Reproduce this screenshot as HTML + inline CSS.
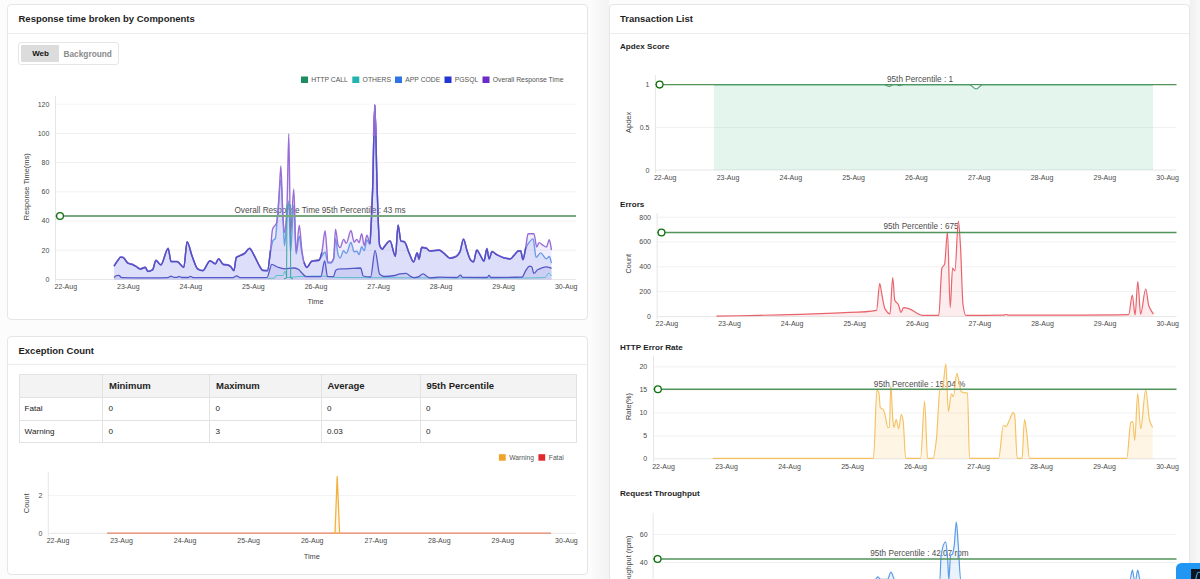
<!DOCTYPE html>
<html><head><meta charset="utf-8"><title>Dashboard</title>
<style>
*{box-sizing:border-box;margin:0;padding:0}
html,body{width:1200px;height:579px;overflow:hidden;background:#fcfcfc;font-family:"Liberation Sans", sans-serif;}
.panel{position:absolute;background:#fff;border:1px solid #e6e6e6;border-radius:4px;}
.ptitle{position:absolute;font-weight:bold;font-size:9.5px;color:#1e1e1e;white-space:nowrap;}
.hdiv{position:absolute;left:0;right:0;height:1px;background:#ececec;}
.sub{position:absolute;font-weight:bold;font-size:8.1px;color:#1e1e1e;white-space:nowrap;}
table{position:absolute;border-collapse:collapse;font-size:8.1px;color:#222;}
td,th{border:1px solid #e2e2e2;text-align:left;padding:0 0 0 5.6px;white-space:nowrap;}
td:first-child{padding-left:4.6px;}
th{padding-left:6px;}
th{background:#f3f3f3;font-weight:bold;font-size:9.5px;color:#1e1e1e;height:23.5px;}
td{height:22.5px;}
svg{position:absolute;left:0;top:0;}
</style></head><body>
<div class="panel" style="left:7px;top:4px;width:581px;height:316px;">
  <div class="ptitle" style="left:10.5px;top:8px;">Response time broken by Components</div>
  <div class="hdiv" style="top:27.5px;"></div>
  <div style="position:absolute;left:9.8px;top:36.5px;width:101px;height:23.5px;border:1px solid #e6e6e6;border-radius:3px;background:#fff;"></div>
  <div style="position:absolute;left:12.8px;top:39.5px;width:38.7px;height:17.3px;background:#dcdcdc;border-radius:1px;"></div>
  <div style="position:absolute;left:24.2px;top:43.6px;font-weight:bold;font-size:8px;color:#111;">Web</div>
  <div style="position:absolute;left:55.5px;top:43.8px;font-weight:bold;font-size:8.3px;color:#8a8a8a;">Background</div>
</div>
<div class="panel" style="left:7px;top:336px;width:581px;height:238.5px;">
  <div class="ptitle" style="left:10.5px;top:8px;">Exception Count</div>
  <div class="hdiv" style="top:27px;"></div>
  <table style="left:11px;top:36.7px;width:558px;">
    <tr><th style="width:83px"></th><th style="width:107px">Minimum</th><th style="width:111.5px">Maximum</th><th style="width:99px">Average</th><th>95th Percentile</th></tr>
    <tr><td>Fatal</td><td>0</td><td>0</td><td>0</td><td>0</td></tr>
    <tr><td>Warning</td><td>0</td><td>3</td><td>0.03</td><td>0</td></tr>
  </table>
</div>
<div style="position:absolute;left:592px;top:0;width:17px;height:579px;background:linear-gradient(90deg,#fafafa,#f3f3f3);"></div>
<div style="position:absolute;left:1190px;top:0;width:10px;height:579px;background:linear-gradient(90deg,#f0f0f0,#f8f8f8);"></div>
<div class="panel" style="left:609px;top:4px;width:581px;height:600px;">
  <div class="ptitle" style="left:10px;top:8px;">Transaction List</div>
  <div class="hdiv" style="top:27.5px;"></div>
  <div class="sub" style="left:10px;top:36.5px;">Apdex Score</div>
  <div class="sub" style="left:10px;top:195px;">Errors</div>
  <div class="sub" style="left:10px;top:337.5px;">HTTP Error Rate</div>
  <div class="sub" style="left:10px;top:484px;">Request Throughput</div>
</div>
<svg width="1200" height="579" viewBox="0 0 1200 579" font-family='"Liberation Sans", sans-serif'>
<line x1="55.5" x2="576" y1="250.2" y2="250.2" stroke="#f1f1f1" stroke-width="1"/>
<line x1="55.5" x2="576" y1="221" y2="221" stroke="#f1f1f1" stroke-width="1"/>
<line x1="55.5" x2="576" y1="191.8" y2="191.8" stroke="#f1f1f1" stroke-width="1"/>
<line x1="55.5" x2="576" y1="162.6" y2="162.6" stroke="#f1f1f1" stroke-width="1"/>
<line x1="55.5" x2="576" y1="133.4" y2="133.4" stroke="#f1f1f1" stroke-width="1"/>
<line x1="55.5" x2="576" y1="104.2" y2="104.2" stroke="#f7f7f7" stroke-width="1"/>
<line x1="55.5" x2="576" y1="279.4" y2="279.4" stroke="#e6e6e6" stroke-width="1"/>
<line x1="55.5" x2="55.5" y1="96" y2="282.4" stroke="#e6e6e6" stroke-width="1"/>
<text x="49.4" y="106.6" font-size="7" fill="#4a4a4a" text-anchor="end" font-weight="normal" >120</text>
<text x="49.4" y="135.8" font-size="7" fill="#4a4a4a" text-anchor="end" font-weight="normal" >100</text>
<text x="49.4" y="165.0" font-size="7" fill="#4a4a4a" text-anchor="end" font-weight="normal" >80</text>
<text x="49.4" y="194.2" font-size="7" fill="#4a4a4a" text-anchor="end" font-weight="normal" >60</text>
<text x="49.4" y="223.4" font-size="7" fill="#4a4a4a" text-anchor="end" font-weight="normal" >40</text>
<text x="49.4" y="252.6" font-size="7" fill="#4a4a4a" text-anchor="end" font-weight="normal" >20</text>
<text x="49.4" y="281.8" font-size="7" fill="#4a4a4a" text-anchor="end" font-weight="normal" >0</text>
<text x="65.8" y="288.7" font-size="7" fill="#4a4a4a" text-anchor="middle" font-weight="normal" >22-Aug</text>
<text x="128.3" y="288.7" font-size="7" fill="#4a4a4a" text-anchor="middle" font-weight="normal" >23-Aug</text>
<text x="190.9" y="288.7" font-size="7" fill="#4a4a4a" text-anchor="middle" font-weight="normal" >24-Aug</text>
<text x="253.4" y="288.7" font-size="7" fill="#4a4a4a" text-anchor="middle" font-weight="normal" >25-Aug</text>
<text x="316.0" y="288.7" font-size="7" fill="#4a4a4a" text-anchor="middle" font-weight="normal" >26-Aug</text>
<text x="378.6" y="288.7" font-size="7" fill="#4a4a4a" text-anchor="middle" font-weight="normal" >27-Aug</text>
<text x="441.1" y="288.7" font-size="7" fill="#4a4a4a" text-anchor="middle" font-weight="normal" >28-Aug</text>
<text x="503.6" y="288.7" font-size="7" fill="#4a4a4a" text-anchor="middle" font-weight="normal" >29-Aug</text>
<text x="566.2" y="288.7" font-size="7" fill="#4a4a4a" text-anchor="middle" font-weight="normal" >30-Aug</text>
<text x="315.5" y="304" font-size="7.4" fill="#444" text-anchor="middle" font-weight="normal" >Time</text>
<text transform="translate(29,186.7) rotate(-90)" font-size="7.5" fill="#444" text-anchor="middle">Response Time(ms)</text>
<text x="320" y="212.8" font-size="8.2" fill="#4d4d4d" text-anchor="middle" font-weight="normal" >Overall Response Time 95th Percentile : 43 ms</text>
<path d="M114.0,265.9 C115.3,263.9 116.7,261.7 118.0,260.0 C118.9,258.9 119.7,257.0 120.6,257.0 C121.4,257.0 122.3,257.1 123.1,257.3 C124.7,257.6 126.4,262.4 128.0,263.1 C129.4,263.7 130.7,263.7 132.1,264.2 C133.5,264.7 134.8,265.6 136.2,266.4 C137.6,267.2 138.9,268.8 140.3,268.8 C141.9,268.8 143.6,267.2 145.2,267.2 C146.1,267.2 147.1,271.3 148.0,271.3 C149.5,271.3 151.1,270.6 152.6,269.6 C153.7,268.8 154.8,260.3 155.9,260.3 C157.5,260.3 159.2,264.7 160.8,264.7 C163.3,264.7 165.7,248.3 168.2,248.3 C169.1,248.3 170.1,261.4 171.0,261.4 C173.1,261.4 175.1,261.4 177.2,261.4 C179.4,261.4 181.6,267.2 183.8,267.2 C184.9,267.2 186.0,241.7 187.1,241.7 C188.7,241.7 190.4,251.6 192.0,255.7 C193.9,260.6 195.9,267.7 197.8,268.8 C199.4,269.8 201.1,270.5 202.7,270.5 C205.2,270.5 207.6,260.6 210.1,260.6 C211.8,260.6 213.6,263.6 215.3,263.6 C216.4,263.6 217.5,258.6 218.6,258.6 C220.1,258.6 221.7,263.9 223.2,264.2 C224.6,264.5 225.9,264.4 227.3,264.7 C228.4,264.9 229.5,265.6 230.6,266.4 C231.7,267.2 232.8,270.5 233.9,270.5 C234.7,270.5 235.5,258.0 236.3,257.3 C237.4,256.3 238.5,256.2 239.6,255.7 C241.3,254.9 242.9,254.3 244.6,253.2 C246.2,252.1 247.9,248.3 249.5,248.3 C251.1,248.3 252.8,252.9 254.4,255.7 C256.0,258.5 257.7,262.8 259.3,265.5 C260.4,267.3 261.5,269.9 262.6,270.1 C264.2,270.4 265.9,270.5 267.5,270.5 C268.5,270.5 269.5,258.3 270.5,250.0 C271.2,244.4 271.8,231.4 272.5,229.4 C273.9,225.2 275.2,226.8 276.6,222.8 C277.3,220.8 277.9,212.7 278.6,205.0 C279.4,196.1 280.1,166.0 280.9,166.0 C281.5,166.0 282.2,205.7 282.8,215.0 C283.4,223.3 283.9,232.6 284.5,232.6 C285.3,232.6 286.2,219.8 287.0,205.0 C287.6,194.3 288.2,133.7 288.8,133.7 C289.4,133.7 289.9,234.4 290.5,234.4 C291.6,234.4 292.7,189.3 293.8,189.3 C294.6,189.3 295.3,252.0 296.1,252.0 C297.2,252.0 298.2,225.1 299.3,225.1 C300.1,225.1 300.9,242.9 301.7,248.7 C302.5,254.3 303.2,259.9 304.0,262.1 C304.9,264.7 305.9,267.2 306.8,267.2 C308.5,267.2 310.1,261.5 311.8,261.0 C314.2,260.3 316.7,260.7 319.1,259.9 C320.0,259.6 321.0,255.7 321.9,252.0 C323.0,247.8 324.0,230.7 325.1,230.7 C325.7,230.7 326.4,244.4 327.0,252.0 C327.3,255.2 327.5,262.1 327.8,262.1 C328.8,262.1 329.9,262.1 330.9,262.1 C331.8,262.1 332.8,260.5 333.7,257.6 C334.3,255.7 334.9,229.2 335.5,229.2 C336.4,229.2 337.3,243.6 338.2,245.3 C338.8,246.5 339.5,247.6 340.1,247.6 C341.3,247.6 342.4,239.4 343.6,239.4 C344.5,239.4 345.4,243.3 346.3,243.3 C347.9,243.3 349.4,230.5 351.0,230.5 C352.0,230.5 353.1,242.1 354.1,242.1 C355.0,242.1 355.9,239.4 356.8,239.4 C357.6,239.4 358.3,242.5 359.1,242.5 C360.0,242.5 360.8,233.6 361.7,233.6 C362.5,233.6 363.4,245.6 364.2,245.6 C365.1,245.6 366.0,235.2 366.9,235.2 C367.9,235.2 369.0,243.3 370.0,243.3 C370.9,243.3 371.7,213.4 372.6,190.0 C373.3,170.2 374.1,104.7 374.8,104.7 C375.6,104.7 376.4,167.7 377.2,190.0 C378.0,212.3 378.8,242.9 379.6,245.0 C380.5,247.5 381.5,248.9 382.4,248.9 C383.1,248.9 383.8,247.0 384.5,246.2 C386.3,244.1 388.2,240.8 390.0,240.8 C391.8,240.8 393.6,256.2 395.4,256.2 C396.3,256.2 397.2,225.0 398.1,225.0 C399.0,225.0 400.0,240.3 400.9,240.8 C402.1,241.4 403.3,241.2 404.5,241.7 C406.0,242.4 407.5,249.3 409.0,252.6 C410.5,255.9 412.1,261.7 413.6,261.7 C414.8,261.7 416.0,252.6 417.2,252.6 C417.8,252.6 418.4,259.0 419.0,259.0 C419.9,259.0 420.8,247.2 421.7,247.2 C423.2,247.2 424.8,247.6 426.3,248.0 C427.5,248.4 428.7,250.8 429.9,250.8 C432.9,250.8 436.0,249.9 439.0,249.9 C440.8,249.9 442.6,252.2 444.4,253.5 C446.2,254.8 448.1,258.0 449.9,258.0 C452.0,258.0 454.1,257.2 456.2,256.2 C457.4,255.6 458.7,253.9 459.9,251.7 C461.1,249.5 462.3,239.0 463.5,239.0 C464.7,239.0 465.9,247.4 467.1,250.8 C468.3,254.2 469.5,258.7 470.7,259.9 C471.6,260.8 472.6,261.7 473.5,261.7 C474.6,261.7 475.7,249.9 476.8,249.9 C478.0,249.9 479.1,253.3 480.3,255.1 C481.5,257.0 482.8,260.9 484.0,260.9 C485.0,260.9 485.9,248.5 486.9,248.5 C487.6,248.5 488.4,258.7 489.1,258.7 C490.1,258.7 491.0,251.4 492.0,251.4 C493.5,251.4 494.9,253.5 496.4,254.3 C498.9,255.6 501.3,257.0 503.8,257.6 C506.0,258.1 508.2,258.7 510.4,258.7 C511.6,258.7 512.9,256.3 514.1,255.1 C515.6,253.7 517.0,250.7 518.5,250.7 C519.2,250.7 520.0,250.7 520.7,250.7 C521.4,250.7 522.2,259.5 522.9,259.5 C523.9,259.5 524.8,251.9 525.8,247.0 C526.5,243.3 527.3,233.8 528.0,233.8 C530.0,233.8 531.9,233.8 533.9,233.8 C534.9,233.8 535.8,247.0 536.8,247.0 C537.5,247.0 538.3,242.6 539.0,242.6 C540.5,242.6 541.9,244.7 543.4,245.5 C544.4,246.1 545.4,247.0 546.4,247.0 C547.4,247.0 548.3,239.6 549.3,239.6 C550.0,239.6 550.8,246.5 551.5,250.0 L551.5,279.4 L114.0,279.4 Z" fill="rgba(120,100,225,0.115)"/>
<path d="M114.0,265.9 C115.3,263.9 116.7,261.7 118.0,260.0 C118.9,258.9 119.7,257.0 120.6,257.0 C121.4,257.0 122.3,257.1 123.1,257.3 C124.7,257.6 126.4,262.4 128.0,263.1 C129.4,263.7 130.7,263.7 132.1,264.2 C133.5,264.7 134.8,265.6 136.2,266.4 C137.6,267.2 138.9,268.8 140.3,268.8 C141.9,268.8 143.6,267.2 145.2,267.2 C146.1,267.2 147.1,271.3 148.0,271.3 C149.5,271.3 151.1,270.6 152.6,269.6 C153.7,268.8 154.8,260.3 155.9,260.3 C157.5,260.3 159.2,264.7 160.8,264.7 C163.3,264.7 165.7,248.3 168.2,248.3 C169.1,248.3 170.1,261.4 171.0,261.4 C173.1,261.4 175.1,261.4 177.2,261.4 C179.4,261.4 181.6,267.2 183.8,267.2 C184.9,267.2 186.0,241.7 187.1,241.7 C188.7,241.7 190.4,251.6 192.0,255.7 C193.9,260.6 195.9,267.7 197.8,268.8 C199.4,269.8 201.1,270.5 202.7,270.5 C205.2,270.5 207.6,260.6 210.1,260.6 C211.8,260.6 213.6,263.6 215.3,263.6 C216.4,263.6 217.5,258.6 218.6,258.6 C220.1,258.6 221.7,263.9 223.2,264.2 C224.6,264.5 225.9,264.4 227.3,264.7 C228.4,264.9 229.5,265.6 230.6,266.4 C231.7,267.2 232.8,270.5 233.9,270.5 C234.7,270.5 235.5,258.0 236.3,257.3 C237.4,256.3 238.5,256.2 239.6,255.7 C241.3,254.9 242.9,254.3 244.6,253.2 C246.2,252.1 247.9,248.3 249.5,248.3 C251.1,248.3 252.8,252.9 254.4,255.7 C256.0,258.5 257.7,262.8 259.3,265.5 C260.4,267.3 261.5,269.9 262.6,270.1 C264.2,270.4 265.9,270.5 267.5,270.5 C268.5,270.5 269.5,257.2 270.5,252.0 C271.3,247.6 272.2,241.7 273.0,240.5 C273.8,239.4 274.5,239.7 275.3,238.5 C276.1,237.3 276.8,222.1 277.6,214.0 C278.7,202.4 279.8,179.5 280.9,179.5 C281.6,179.5 282.3,204.0 283.0,217.0 C283.5,226.3 284.0,246.0 284.5,246.0 C285.3,246.0 286.2,222.9 287.0,215.0 C287.6,209.3 288.2,201.0 288.8,201.0 C289.4,201.0 289.9,252.5 290.5,252.5 C291.6,252.5 292.7,205.0 293.8,205.0 C294.6,205.0 295.3,254.0 296.1,254.0 C297.2,254.0 298.2,236.3 299.3,236.3 C300.1,236.3 300.9,247.7 301.7,252.0 C302.5,256.1 303.2,260.6 304.0,262.5 C304.9,264.8 305.9,267.2 306.8,267.2 C308.5,267.2 310.1,261.5 311.8,261.0 C314.2,260.3 316.7,260.7 319.1,259.9 C320.0,259.6 321.0,257.2 321.9,256.0 C323.0,254.6 324.0,252.0 325.1,252.0 C325.7,252.0 326.4,257.5 327.0,260.0 C327.3,261.0 327.5,263.0 327.8,263.0 C328.8,263.0 329.9,263.0 330.9,263.0 C331.8,263.0 332.8,261.5 333.7,259.0 C334.3,257.4 334.9,238.6 335.5,238.6 C336.4,238.6 337.3,252.8 338.2,255.0 C338.8,256.5 339.5,258.0 340.1,258.0 C341.3,258.0 342.4,250.7 343.6,250.7 C344.5,250.7 345.4,253.4 346.3,253.4 C347.9,253.4 349.4,242.5 351.0,242.5 C352.0,242.5 353.1,251.9 354.1,251.9 C355.0,251.9 355.9,251.1 356.8,251.1 C357.6,251.1 358.3,254.6 359.1,254.6 C360.0,254.6 360.8,246.8 361.7,246.8 C362.5,246.8 363.4,250.7 364.2,250.7 C365.1,250.7 366.0,240.0 366.9,240.0 C367.9,240.0 369.0,244.5 370.0,244.5 C370.9,244.5 371.7,213.8 372.6,190.0 C373.3,169.9 374.1,104.7 374.8,104.7 C375.6,104.7 376.4,167.7 377.2,190.0 C378.0,212.3 378.8,242.9 379.6,245.0 C380.5,247.5 381.5,248.9 382.4,248.9 C383.1,248.9 383.8,247.0 384.5,246.2 C386.3,244.1 388.2,240.8 390.0,240.8 C391.8,240.8 393.6,256.2 395.4,256.2 C396.3,256.2 397.2,225.0 398.1,225.0 C399.0,225.0 400.0,240.3 400.9,240.8 C402.1,241.4 403.3,241.2 404.5,241.7 C406.0,242.4 407.5,249.3 409.0,252.6 C410.5,255.9 412.1,261.7 413.6,261.7 C414.8,261.7 416.0,252.6 417.2,252.6 C417.8,252.6 418.4,259.0 419.0,259.0 C419.9,259.0 420.8,247.2 421.7,247.2 C423.2,247.2 424.8,247.6 426.3,248.0 C427.5,248.4 428.7,250.8 429.9,250.8 C432.9,250.8 436.0,249.9 439.0,249.9 C440.8,249.9 442.6,252.2 444.4,253.5 C446.2,254.8 448.1,258.0 449.9,258.0 C452.0,258.0 454.1,257.2 456.2,256.2 C457.4,255.6 458.7,253.9 459.9,251.7 C461.1,249.5 462.3,239.0 463.5,239.0 C464.7,239.0 465.9,247.4 467.1,250.8 C468.3,254.2 469.5,258.7 470.7,259.9 C471.6,260.8 472.6,261.7 473.5,261.7 C474.6,261.7 475.7,249.9 476.8,249.9 C478.0,249.9 479.1,253.3 480.3,255.1 C481.5,257.0 482.8,260.9 484.0,260.9 C485.0,260.9 485.9,248.5 486.9,248.5 C487.6,248.5 488.4,258.7 489.1,258.7 C490.1,258.7 491.0,251.4 492.0,251.4 C493.5,251.4 494.9,253.5 496.4,254.3 C498.9,255.6 501.3,257.0 503.8,257.6 C506.0,258.1 508.2,258.7 510.4,258.7 C511.6,258.7 512.9,256.3 514.1,255.1 C515.6,253.7 517.0,250.7 518.5,250.7 C519.2,250.7 520.0,250.7 520.7,250.7 C521.4,250.7 522.2,259.5 522.9,259.5 C523.9,259.5 524.8,251.0 525.8,248.5 C526.5,246.6 527.3,245.0 528.0,244.0 C529.7,241.6 531.4,238.9 533.1,238.9 C534.1,238.9 535.1,257.3 536.1,257.3 C537.6,257.3 539.0,252.9 540.5,252.9 C542.5,252.9 544.4,258.7 546.4,258.7 C547.4,258.7 548.3,256.5 549.3,256.5 C550.0,256.5 550.8,260.9 551.5,263.1 L551.5,279.4 L114.0,279.4 Z" fill="rgba(90,120,235,0.12)"/>
<path d="M114.0,277.6 C114.8,276.9 115.7,275.7 116.5,275.6 C117.3,275.5 118.2,275.4 119.0,275.4 C119.8,275.4 120.7,277.6 121.5,277.6 C131.0,277.8 140.5,277.8 150.0,277.8 C156.0,277.8 162.0,277.8 168.0,277.6 C169.0,277.6 170.0,276.1 171.0,276.1 C172.0,276.1 173.0,277.4 174.0,277.4 C175.0,277.4 176.0,277.4 177.0,277.4 C177.7,277.4 178.3,276.4 179.0,276.4 C180.0,276.4 181.0,277.5 182.0,277.5 C184.0,277.5 186.0,277.5 188.0,277.5 C188.8,277.5 189.7,276.4 190.5,276.4 C191.3,276.4 192.2,277.6 193.0,277.6 C206.3,277.6 219.7,277.6 233.0,277.6 C234.2,277.6 235.5,275.8 236.7,275.8 C237.8,275.8 238.9,277.6 240.0,277.6 C249.0,277.6 258.0,277.6 267.0,277.6 C268.6,277.6 270.2,264.3 271.8,264.3 C273.6,264.3 275.5,266.4 277.3,267.0 C279.7,267.8 282.1,268.8 284.5,268.8 C287.5,268.8 290.6,268.0 293.6,268.0 C295.2,268.0 296.8,268.6 298.4,269.4 C299.3,269.8 300.3,271.3 301.2,272.2 C302.9,273.8 304.5,276.7 306.2,276.7 C311.1,276.7 315.9,276.7 320.8,276.7 C322.1,276.7 323.4,261.0 324.7,261.0 C325.6,261.0 326.6,276.7 327.5,276.7 C329.4,276.7 331.3,276.7 333.2,276.7 C334.1,276.7 335.1,270.5 336.0,270.0 C337.3,269.3 338.7,268.9 340.0,268.9 C342.0,268.8 344.1,268.8 346.1,268.8 C350.9,268.7 355.8,268.0 360.6,268.0 C361.5,268.0 362.4,275.7 363.3,276.0 C365.7,276.7 368.2,277.0 370.6,277.0 C372.1,277.0 373.6,250.7 375.1,250.7 C376.6,250.7 378.2,272.9 379.7,274.3 C381.1,275.6 382.6,276.5 384.0,276.5 C387.7,276.5 391.3,276.1 395.0,275.5 C396.7,275.2 398.3,274.0 400.0,273.8 C402.0,273.6 404.0,273.4 406.0,273.4 C407.3,273.4 408.7,275.3 410.0,276.0 C411.3,276.7 412.7,277.6 414.0,277.6 C415.3,277.6 416.7,277.3 418.0,277.0 C419.7,276.6 421.3,273.8 423.0,273.8 C424.3,273.8 425.7,275.8 427.0,276.5 C428.0,277.0 429.0,277.8 430.0,277.8 C433.3,277.8 436.7,277.2 440.0,277.2 C445.7,277.2 451.3,277.5 457.0,277.5 C458.1,277.5 459.3,275.2 460.4,275.2 C461.3,275.2 462.1,277.4 463.0,277.4 C471.0,277.5 479.0,277.5 487.0,277.5 C487.7,277.5 488.4,275.5 489.1,275.5 C489.7,275.5 490.4,277.5 491.0,277.5 C501.3,277.5 511.7,277.4 522.0,277.0 C523.3,276.9 524.5,272.3 525.8,270.5 C527.0,268.8 528.3,266.1 529.5,266.1 C530.2,266.1 531.0,266.4 531.7,266.8 C532.4,267.2 533.2,273.4 533.9,273.4 C535.1,273.4 536.3,270.5 537.5,269.8 C540.5,268.2 543.4,266.8 546.4,266.8 C548.1,266.8 549.8,267.8 551.5,268.3 L551.5,279.4 L114.0,279.4 Z" fill="rgba(60,60,200,0.10)"/>
<path d="M114.0,265.9 C115.3,263.9 116.7,261.7 118.0,260.0 C118.9,258.9 119.7,257.0 120.6,257.0 C121.4,257.0 122.3,257.1 123.1,257.3 C124.7,257.6 126.4,262.4 128.0,263.1 C129.4,263.7 130.7,263.7 132.1,264.2 C133.5,264.7 134.8,265.6 136.2,266.4 C137.6,267.2 138.9,268.8 140.3,268.8 C141.9,268.8 143.6,267.2 145.2,267.2 C146.1,267.2 147.1,271.3 148.0,271.3 C149.5,271.3 151.1,270.6 152.6,269.6 C153.7,268.8 154.8,260.3 155.9,260.3 C157.5,260.3 159.2,264.7 160.8,264.7 C163.3,264.7 165.7,248.3 168.2,248.3 C169.1,248.3 170.1,261.4 171.0,261.4 C173.1,261.4 175.1,261.4 177.2,261.4 C179.4,261.4 181.6,267.2 183.8,267.2 C184.9,267.2 186.0,241.7 187.1,241.7 C188.7,241.7 190.4,251.6 192.0,255.7 C193.9,260.6 195.9,267.7 197.8,268.8 C199.4,269.8 201.1,270.5 202.7,270.5 C205.2,270.5 207.6,260.6 210.1,260.6 C211.8,260.6 213.6,263.6 215.3,263.6 C216.4,263.6 217.5,258.6 218.6,258.6 C220.1,258.6 221.7,263.9 223.2,264.2 C224.6,264.5 225.9,264.4 227.3,264.7 C228.4,264.9 229.5,265.6 230.6,266.4 C231.7,267.2 232.8,270.5 233.9,270.5 C234.7,270.5 235.5,258.0 236.3,257.3 C237.4,256.3 238.5,256.2 239.6,255.7 C241.3,254.9 242.9,254.3 244.6,253.2 C246.2,252.1 247.9,248.3 249.5,248.3 C251.1,248.3 252.8,252.9 254.4,255.7 C256.0,258.5 257.7,262.8 259.3,265.5 C260.4,267.3 261.5,269.9 262.6,270.1 C264.2,270.4 265.9,270.5 267.5,270.5 C268.5,270.5 269.5,257.2 270.5,252.0 C271.3,247.6 272.2,241.7 273.0,240.5 C273.8,239.4 274.5,239.7 275.3,238.5 C276.1,237.3 276.8,222.1 277.6,214.0 C278.7,202.4 279.8,179.5 280.9,179.5 C281.6,179.5 282.3,204.0 283.0,217.0 C283.5,226.3 284.0,246.0 284.5,246.0 C285.3,246.0 286.2,222.9 287.0,215.0 C287.6,209.3 288.2,201.0 288.8,201.0 C289.4,201.0 289.9,252.5 290.5,252.5 C291.6,252.5 292.7,205.0 293.8,205.0 C294.6,205.0 295.3,254.0 296.1,254.0 C297.2,254.0 298.2,236.3 299.3,236.3 C300.1,236.3 300.9,247.7 301.7,252.0 C302.5,256.1 303.2,260.6 304.0,262.5 C304.9,264.8 305.9,267.2 306.8,267.2 C308.5,267.2 310.1,261.5 311.8,261.0 C314.2,260.3 316.7,260.7 319.1,259.9 C320.0,259.6 321.0,257.2 321.9,256.0 C323.0,254.6 324.0,252.0 325.1,252.0 C325.7,252.0 326.4,257.5 327.0,260.0 C327.3,261.0 327.5,263.0 327.8,263.0 C328.8,263.0 329.9,263.0 330.9,263.0 C331.8,263.0 332.8,261.5 333.7,259.0 C334.3,257.4 334.9,238.6 335.5,238.6 C336.4,238.6 337.3,252.8 338.2,255.0 C338.8,256.5 339.5,258.0 340.1,258.0 C341.3,258.0 342.4,250.7 343.6,250.7 C344.5,250.7 345.4,253.4 346.3,253.4 C347.9,253.4 349.4,242.5 351.0,242.5 C352.0,242.5 353.1,251.9 354.1,251.9 C355.0,251.9 355.9,251.1 356.8,251.1 C357.6,251.1 358.3,254.6 359.1,254.6 C360.0,254.6 360.8,246.8 361.7,246.8 C362.5,246.8 363.4,250.7 364.2,250.7 C365.1,250.7 366.0,240.0 366.9,240.0 C367.9,240.0 369.0,244.5 370.0,244.5 C370.9,244.5 371.7,213.8 372.6,190.0 C373.3,169.9 374.1,104.7 374.8,104.7 C375.6,104.7 376.4,167.7 377.2,190.0 C378.0,212.3 378.8,242.9 379.6,245.0 C380.5,247.5 381.5,248.9 382.4,248.9 C383.1,248.9 383.8,247.0 384.5,246.2 C386.3,244.1 388.2,240.8 390.0,240.8 C391.8,240.8 393.6,256.2 395.4,256.2 C396.3,256.2 397.2,225.0 398.1,225.0 C399.0,225.0 400.0,240.3 400.9,240.8 C402.1,241.4 403.3,241.2 404.5,241.7 C406.0,242.4 407.5,249.3 409.0,252.6 C410.5,255.9 412.1,261.7 413.6,261.7 C414.8,261.7 416.0,252.6 417.2,252.6 C417.8,252.6 418.4,259.0 419.0,259.0 C419.9,259.0 420.8,247.2 421.7,247.2 C423.2,247.2 424.8,247.6 426.3,248.0 C427.5,248.4 428.7,250.8 429.9,250.8 C432.9,250.8 436.0,249.9 439.0,249.9 C440.8,249.9 442.6,252.2 444.4,253.5 C446.2,254.8 448.1,258.0 449.9,258.0 C452.0,258.0 454.1,257.2 456.2,256.2 C457.4,255.6 458.7,253.9 459.9,251.7 C461.1,249.5 462.3,239.0 463.5,239.0 C464.7,239.0 465.9,247.4 467.1,250.8 C468.3,254.2 469.5,258.7 470.7,259.9 C471.6,260.8 472.6,261.7 473.5,261.7 C474.6,261.7 475.7,249.9 476.8,249.9 C478.0,249.9 479.1,253.3 480.3,255.1 C481.5,257.0 482.8,260.9 484.0,260.9 C485.0,260.9 485.9,248.5 486.9,248.5 C487.6,248.5 488.4,258.7 489.1,258.7 C490.1,258.7 491.0,251.4 492.0,251.4 C493.5,251.4 494.9,253.5 496.4,254.3 C498.9,255.6 501.3,257.0 503.8,257.6 C506.0,258.1 508.2,258.7 510.4,258.7 C511.6,258.7 512.9,256.3 514.1,255.1 C515.6,253.7 517.0,250.7 518.5,250.7 C519.2,250.7 520.0,250.7 520.7,250.7 C521.4,250.7 522.2,259.5 522.9,259.5 C523.9,259.5 524.8,251.0 525.8,248.5 C526.5,246.6 527.3,245.0 528.0,244.0 C529.7,241.6 531.4,238.9 533.1,238.9 C534.1,238.9 535.1,257.3 536.1,257.3 C537.6,257.3 539.0,252.9 540.5,252.9 C542.5,252.9 544.4,258.7 546.4,258.7 C547.4,258.7 548.3,256.5 549.3,256.5 C550.0,256.5 550.8,260.9 551.5,263.1" fill="none" stroke="#6d9ce8" stroke-width="1.4"/>
<path d="M114.0,265.9 C115.3,263.9 116.7,261.7 118.0,260.0 C118.9,258.9 119.7,257.0 120.6,257.0 C121.4,257.0 122.3,257.1 123.1,257.3 C124.7,257.6 126.4,262.4 128.0,263.1 C129.4,263.7 130.7,263.7 132.1,264.2 C133.5,264.7 134.8,265.6 136.2,266.4 C137.6,267.2 138.9,268.8 140.3,268.8 C141.9,268.8 143.6,267.2 145.2,267.2 C146.1,267.2 147.1,271.3 148.0,271.3 C149.5,271.3 151.1,270.6 152.6,269.6 C153.7,268.8 154.8,260.3 155.9,260.3 C157.5,260.3 159.2,264.7 160.8,264.7 C163.3,264.7 165.7,248.3 168.2,248.3 C169.1,248.3 170.1,261.4 171.0,261.4 C173.1,261.4 175.1,261.4 177.2,261.4 C179.4,261.4 181.6,267.2 183.8,267.2 C184.9,267.2 186.0,241.7 187.1,241.7 C188.7,241.7 190.4,251.6 192.0,255.7 C193.9,260.6 195.9,267.7 197.8,268.8 C199.4,269.8 201.1,270.5 202.7,270.5 C205.2,270.5 207.6,260.6 210.1,260.6 C211.8,260.6 213.6,263.6 215.3,263.6 C216.4,263.6 217.5,258.6 218.6,258.6 C220.1,258.6 221.7,263.9 223.2,264.2 C224.6,264.5 225.9,264.4 227.3,264.7 C228.4,264.9 229.5,265.6 230.6,266.4 C231.7,267.2 232.8,270.5 233.9,270.5 C234.7,270.5 235.5,258.0 236.3,257.3 C237.4,256.3 238.5,256.2 239.6,255.7 C241.3,254.9 242.9,254.3 244.6,253.2 C246.2,252.1 247.9,248.3 249.5,248.3 C251.1,248.3 252.8,252.9 254.4,255.7 C256.0,258.5 257.7,262.8 259.3,265.5 C260.4,267.3 261.5,269.9 262.6,270.1 C264.2,270.4 265.9,270.5 267.5,270.5 C268.5,270.5 269.5,258.3 270.5,250.0 C271.2,244.4 271.8,231.4 272.5,229.4 C273.9,225.2 275.2,226.8 276.6,222.8 C277.3,220.8 277.9,212.7 278.6,205.0 C279.4,196.1 280.1,166.0 280.9,166.0 C281.5,166.0 282.2,205.7 282.8,215.0 C283.4,223.3 283.9,232.6 284.5,232.6 C285.3,232.6 286.2,219.8 287.0,205.0 C287.6,194.3 288.2,133.7 288.8,133.7 C289.4,133.7 289.9,234.4 290.5,234.4 C291.6,234.4 292.7,189.3 293.8,189.3 C294.6,189.3 295.3,252.0 296.1,252.0 C297.2,252.0 298.2,225.1 299.3,225.1 C300.1,225.1 300.9,242.9 301.7,248.7 C302.5,254.3 303.2,259.9 304.0,262.1 C304.9,264.7 305.9,267.2 306.8,267.2 C308.5,267.2 310.1,261.5 311.8,261.0 C314.2,260.3 316.7,260.7 319.1,259.9 C320.0,259.6 321.0,255.7 321.9,252.0 C323.0,247.8 324.0,230.7 325.1,230.7 C325.7,230.7 326.4,244.4 327.0,252.0 C327.3,255.2 327.5,262.1 327.8,262.1 C328.8,262.1 329.9,262.1 330.9,262.1 C331.8,262.1 332.8,260.5 333.7,257.6 C334.3,255.7 334.9,229.2 335.5,229.2 C336.4,229.2 337.3,243.6 338.2,245.3 C338.8,246.5 339.5,247.6 340.1,247.6 C341.3,247.6 342.4,239.4 343.6,239.4 C344.5,239.4 345.4,243.3 346.3,243.3 C347.9,243.3 349.4,230.5 351.0,230.5 C352.0,230.5 353.1,242.1 354.1,242.1 C355.0,242.1 355.9,239.4 356.8,239.4 C357.6,239.4 358.3,242.5 359.1,242.5 C360.0,242.5 360.8,233.6 361.7,233.6 C362.5,233.6 363.4,245.6 364.2,245.6 C365.1,245.6 366.0,235.2 366.9,235.2 C367.9,235.2 369.0,243.3 370.0,243.3 C370.9,243.3 371.7,213.4 372.6,190.0 C373.3,170.2 374.1,104.7 374.8,104.7 C375.6,104.7 376.4,167.7 377.2,190.0 C378.0,212.3 378.8,242.9 379.6,245.0 C380.5,247.5 381.5,248.9 382.4,248.9 C383.1,248.9 383.8,247.0 384.5,246.2 C386.3,244.1 388.2,240.8 390.0,240.8 C391.8,240.8 393.6,256.2 395.4,256.2 C396.3,256.2 397.2,225.0 398.1,225.0 C399.0,225.0 400.0,240.3 400.9,240.8 C402.1,241.4 403.3,241.2 404.5,241.7 C406.0,242.4 407.5,249.3 409.0,252.6 C410.5,255.9 412.1,261.7 413.6,261.7 C414.8,261.7 416.0,252.6 417.2,252.6 C417.8,252.6 418.4,259.0 419.0,259.0 C419.9,259.0 420.8,247.2 421.7,247.2 C423.2,247.2 424.8,247.6 426.3,248.0 C427.5,248.4 428.7,250.8 429.9,250.8 C432.9,250.8 436.0,249.9 439.0,249.9 C440.8,249.9 442.6,252.2 444.4,253.5 C446.2,254.8 448.1,258.0 449.9,258.0 C452.0,258.0 454.1,257.2 456.2,256.2 C457.4,255.6 458.7,253.9 459.9,251.7 C461.1,249.5 462.3,239.0 463.5,239.0 C464.7,239.0 465.9,247.4 467.1,250.8 C468.3,254.2 469.5,258.7 470.7,259.9 C471.6,260.8 472.6,261.7 473.5,261.7 C474.6,261.7 475.7,249.9 476.8,249.9 C478.0,249.9 479.1,253.3 480.3,255.1 C481.5,257.0 482.8,260.9 484.0,260.9 C485.0,260.9 485.9,248.5 486.9,248.5 C487.6,248.5 488.4,258.7 489.1,258.7 C490.1,258.7 491.0,251.4 492.0,251.4 C493.5,251.4 494.9,253.5 496.4,254.3 C498.9,255.6 501.3,257.0 503.8,257.6 C506.0,258.1 508.2,258.7 510.4,258.7 C511.6,258.7 512.9,256.3 514.1,255.1 C515.6,253.7 517.0,250.7 518.5,250.7 C519.2,250.7 520.0,250.7 520.7,250.7 C521.4,250.7 522.2,259.5 522.9,259.5 C523.9,259.5 524.8,251.9 525.8,247.0 C526.5,243.3 527.3,233.8 528.0,233.8 C530.0,233.8 531.9,233.8 533.9,233.8 C534.9,233.8 535.8,247.0 536.8,247.0 C537.5,247.0 538.3,242.6 539.0,242.6 C540.5,242.6 541.9,244.7 543.4,245.5 C544.4,246.1 545.4,247.0 546.4,247.0 C547.4,247.0 548.3,239.6 549.3,239.6 C550.0,239.6 550.8,246.5 551.5,250.0" fill="none" stroke="#9a6dd6" stroke-width="1.4"/>
<path d="M114.0,265.9 C115.3,263.9 116.7,261.7 118.0,260.0 C118.9,258.9 119.7,257.0 120.6,257.0 C121.4,257.0 122.3,257.1 123.1,257.3 C124.7,257.6 126.4,262.4 128.0,263.1 C129.4,263.7 130.7,263.7 132.1,264.2 C133.5,264.7 134.8,265.6 136.2,266.4 C137.6,267.2 138.9,268.8 140.3,268.8 C141.9,268.8 143.6,267.2 145.2,267.2 C146.1,267.2 147.1,271.3 148.0,271.3 C149.5,271.3 151.1,270.6 152.6,269.6 C153.7,268.8 154.8,260.3 155.9,260.3 C157.5,260.3 159.2,264.7 160.8,264.7 C163.3,264.7 165.7,248.3 168.2,248.3 C169.1,248.3 170.1,261.4 171.0,261.4 C173.1,261.4 175.1,261.4 177.2,261.4 C179.4,261.4 181.6,267.2 183.8,267.2 C184.9,267.2 186.0,241.7 187.1,241.7 C188.7,241.7 190.4,251.6 192.0,255.7 C193.9,260.6 195.9,267.7 197.8,268.8 C199.4,269.8 201.1,270.5 202.7,270.5 C205.2,270.5 207.6,260.6 210.1,260.6 C211.8,260.6 213.6,263.6 215.3,263.6 C216.4,263.6 217.5,258.6 218.6,258.6 C220.1,258.6 221.7,263.9 223.2,264.2 C224.6,264.5 225.9,264.4 227.3,264.7 C228.4,264.9 229.5,265.6 230.6,266.4 C231.7,267.2 232.8,270.5 233.9,270.5 C234.7,270.5 235.5,258.0 236.3,257.3 C237.4,256.3 238.5,256.2 239.6,255.7 C241.3,254.9 242.9,254.3 244.6,253.2 C246.2,252.1 247.9,248.3 249.5,248.3 C251.1,248.3 252.8,252.9 254.4,255.7 C256.0,258.5 257.7,262.8 259.3,265.5 C260.4,267.3 261.5,269.9 262.6,270.1 C264.2,270.4 265.9,270.5 267.5,270.5 C268.5,270.5 269.5,256.8 270.5,250.0" fill="none" stroke="#5450c4" stroke-width="1.4" transform="translate(0,0.35)"/>
<path d="M304.0,262.1 C304.9,263.8 305.9,267.2 306.8,267.2 C308.5,267.2 310.1,261.5 311.8,261.0 C314.2,260.3 316.7,260.7 319.1,259.9 C320.0,259.6 321.0,254.6 321.9,252.0" fill="none" stroke="#5450c4" stroke-width="1.4" transform="translate(0,0.35)"/>
<path d="M370.0,243.3 C370.9,225.5 371.7,213.4 372.6,190.0 C373.3,170.2 374.1,104.7 374.8,104.7 C375.6,104.7 376.4,167.7 377.2,190.0 C378.0,212.3 378.8,242.9 379.6,245.0 C380.5,247.5 381.5,248.9 382.4,248.9 C383.1,248.9 383.8,247.0 384.5,246.2 C386.3,244.1 388.2,240.8 390.0,240.8 C391.8,240.8 393.6,256.2 395.4,256.2 C396.3,256.2 397.2,225.0 398.1,225.0 C399.0,225.0 400.0,240.3 400.9,240.8 C402.1,241.4 403.3,241.2 404.5,241.7 C406.0,242.4 407.5,249.3 409.0,252.6 C410.5,255.9 412.1,261.7 413.6,261.7 C414.8,261.7 416.0,252.6 417.2,252.6 C417.8,252.6 418.4,259.0 419.0,259.0 C419.9,259.0 420.8,247.2 421.7,247.2 C423.2,247.2 424.8,247.6 426.3,248.0 C427.5,248.4 428.7,250.8 429.9,250.8 C432.9,250.8 436.0,249.9 439.0,249.9 C440.8,249.9 442.6,252.2 444.4,253.5 C446.2,254.8 448.1,258.0 449.9,258.0 C452.0,258.0 454.1,257.2 456.2,256.2 C457.4,255.6 458.7,253.9 459.9,251.7 C461.1,249.5 462.3,239.0 463.5,239.0 C464.7,239.0 465.9,247.4 467.1,250.8 C468.3,254.2 469.5,258.7 470.7,259.9 C471.6,260.8 472.6,261.7 473.5,261.7 C474.6,261.7 475.7,249.9 476.8,249.9 C478.0,249.9 479.1,253.3 480.3,255.1 C481.5,257.0 482.8,260.9 484.0,260.9 C485.0,260.9 485.9,248.5 486.9,248.5 C487.6,248.5 488.4,258.7 489.1,258.7 C490.1,258.7 491.0,251.4 492.0,251.4 C493.5,251.4 494.9,253.5 496.4,254.3 C498.9,255.6 501.3,257.0 503.8,257.6 C506.0,258.1 508.2,258.7 510.4,258.7 C511.6,258.7 512.9,256.3 514.1,255.1 C515.6,253.7 517.0,250.7 518.5,250.7 C519.2,250.7 520.0,250.7 520.7,250.7 C521.4,250.7 522.2,259.5 522.9,259.5 C523.9,259.5 524.8,251.2 525.8,247.0" fill="none" stroke="#5450c4" stroke-width="1.4" transform="translate(0,0.35)"/>
<path d="M373.45,136 L374.8,104.7 L376.15,136" fill="none" stroke="#9a6dd6" stroke-width="1.4"/>
<path d="M268.0,278.4 C270.3,278.3 272.7,278.3 275.0,278.0 C275.3,278.0 275.7,275.5 276.0,275.5 C278.3,275.5 280.7,275.5 283.0,275.5 C283.7,275.5 284.3,271.0 285.0,271.0 C285.7,271.0 286.3,277.5 287.0,277.5 C291.3,277.5 295.7,276.7 300.0,276.5 C306.7,276.2 313.3,276.0 320.0,276.0 C326.7,276.0 333.3,277.5 340.0,277.5 C400.0,277.9 460.0,278.0 520.0,278.0 C528.3,278.0 536.7,277.9 545.0,277.5 C546.3,277.4 547.7,273.0 549.0,273.0 C549.8,273.0 550.7,275.0 551.5,276.0" fill="none" stroke="#5cc0cc" stroke-width="1"/>
<path d="M114.0,277.6 C114.8,276.9 115.7,275.7 116.5,275.6 C117.3,275.5 118.2,275.4 119.0,275.4 C119.8,275.4 120.7,277.6 121.5,277.6 C131.0,277.8 140.5,277.8 150.0,277.8 C156.0,277.8 162.0,277.8 168.0,277.6 C169.0,277.6 170.0,276.1 171.0,276.1 C172.0,276.1 173.0,277.4 174.0,277.4 C175.0,277.4 176.0,277.4 177.0,277.4 C177.7,277.4 178.3,276.4 179.0,276.4 C180.0,276.4 181.0,277.5 182.0,277.5 C184.0,277.5 186.0,277.5 188.0,277.5 C188.8,277.5 189.7,276.4 190.5,276.4 C191.3,276.4 192.2,277.6 193.0,277.6 C206.3,277.6 219.7,277.6 233.0,277.6 C234.2,277.6 235.5,275.8 236.7,275.8 C237.8,275.8 238.9,277.6 240.0,277.6 C249.0,277.6 258.0,277.6 267.0,277.6 C268.6,277.6 270.2,264.3 271.8,264.3 C273.6,264.3 275.5,266.4 277.3,267.0 C279.7,267.8 282.1,268.8 284.5,268.8 C287.5,268.8 290.6,268.0 293.6,268.0 C295.2,268.0 296.8,268.6 298.4,269.4 C299.3,269.8 300.3,271.3 301.2,272.2 C302.9,273.8 304.5,276.7 306.2,276.7 C311.1,276.7 315.9,276.7 320.8,276.7 C322.1,276.7 323.4,261.0 324.7,261.0 C325.6,261.0 326.6,276.7 327.5,276.7 C329.4,276.7 331.3,276.7 333.2,276.7 C334.1,276.7 335.1,270.5 336.0,270.0 C337.3,269.3 338.7,268.9 340.0,268.9 C342.0,268.8 344.1,268.8 346.1,268.8 C350.9,268.7 355.8,268.0 360.6,268.0 C361.5,268.0 362.4,275.7 363.3,276.0 C365.7,276.7 368.2,277.0 370.6,277.0 C372.1,277.0 373.6,250.7 375.1,250.7 C376.6,250.7 378.2,272.9 379.7,274.3 C381.1,275.6 382.6,276.5 384.0,276.5 C387.7,276.5 391.3,276.1 395.0,275.5 C396.7,275.2 398.3,274.0 400.0,273.8 C402.0,273.6 404.0,273.4 406.0,273.4 C407.3,273.4 408.7,275.3 410.0,276.0 C411.3,276.7 412.7,277.6 414.0,277.6 C415.3,277.6 416.7,277.3 418.0,277.0 C419.7,276.6 421.3,273.8 423.0,273.8 C424.3,273.8 425.7,275.8 427.0,276.5 C428.0,277.0 429.0,277.8 430.0,277.8 C433.3,277.8 436.7,277.2 440.0,277.2 C445.7,277.2 451.3,277.5 457.0,277.5 C458.1,277.5 459.3,275.2 460.4,275.2 C461.3,275.2 462.1,277.4 463.0,277.4 C471.0,277.5 479.0,277.5 487.0,277.5 C487.7,277.5 488.4,275.5 489.1,275.5 C489.7,275.5 490.4,277.5 491.0,277.5 C501.3,277.5 511.7,277.4 522.0,277.0 C523.3,276.9 524.5,272.3 525.8,270.5 C527.0,268.8 528.3,266.1 529.5,266.1 C530.2,266.1 531.0,266.4 531.7,266.8 C532.4,267.2 533.2,273.4 533.9,273.4 C535.1,273.4 536.3,270.5 537.5,269.8 C540.5,268.2 543.4,266.8 546.4,266.8 C548.1,266.8 549.8,267.8 551.5,268.3" fill="none" stroke="#5558c8" stroke-width="1.3"/>
<path d="M284.0,278.8 L286.6,278.0 L287.0,205.0 L290.3,205.0 L290.7,278.0 L293.0,278.8" fill="none" stroke="#3aa59a" stroke-width="1"/>
<line x1="55.5" x2="576" y1="216" y2="216" stroke="#78a680" stroke-width="1.8"/>
<circle cx="60.0" cy="216" r="3.4" fill="#fff" stroke="#0f6f0f" stroke-width="1.3"/>
<rect x="301" y="76.5" width="7" height="6.5" fill="#1d8d5f"/>
<text x="311.3" y="82.1" font-size="6.8" fill="#555" text-anchor="start" font-weight="normal" >HTTP CALL</text>
<rect x="352.3" y="76.5" width="7" height="6.5" fill="#22b3ad"/>
<text x="362.6" y="82.1" font-size="6.8" fill="#555" text-anchor="start" font-weight="normal" >OTHERS</text>
<rect x="395" y="76.5" width="7" height="6.5" fill="#2f74e3"/>
<text x="405.3" y="82.1" font-size="6.8" fill="#555" text-anchor="start" font-weight="normal" >APP CODE</text>
<rect x="444.5" y="76.5" width="7" height="6.5" fill="#2535d2"/>
<text x="454.8" y="82.1" font-size="6.8" fill="#555" text-anchor="start" font-weight="normal" >PGSQL</text>
<rect x="482.5" y="76.5" width="7" height="6.5" fill="#6a2bc6"/>
<text x="492.8" y="82.1" font-size="6.8" fill="#555" text-anchor="start" font-weight="normal" >Overall Response Time</text>
<line x1="48.3" x2="576" y1="495.6" y2="495.6" stroke="#f3f3f3" stroke-width="1"/>
<line x1="48.3" x2="576" y1="533.3" y2="533.3" stroke="#e6e6e6" stroke-width="1"/>
<line x1="48.3" x2="48.3" y1="472" y2="536.3" stroke="#e6e6e6" stroke-width="1"/>
<text x="42.5" y="498.2" font-size="7" fill="#4a4a4a" text-anchor="end" font-weight="normal" >2</text>
<text x="42.5" y="535.8" font-size="7" fill="#4a4a4a" text-anchor="end" font-weight="normal" >0</text>
<text x="58.0" y="542.8000000000001" font-size="7" fill="#4a4a4a" text-anchor="middle" font-weight="normal" >22-Aug</text>
<text x="121.5" y="542.8000000000001" font-size="7" fill="#4a4a4a" text-anchor="middle" font-weight="normal" >23-Aug</text>
<text x="185.1" y="542.8000000000001" font-size="7" fill="#4a4a4a" text-anchor="middle" font-weight="normal" >24-Aug</text>
<text x="248.6" y="542.8000000000001" font-size="7" fill="#4a4a4a" text-anchor="middle" font-weight="normal" >25-Aug</text>
<text x="312.2" y="542.8000000000001" font-size="7" fill="#4a4a4a" text-anchor="middle" font-weight="normal" >26-Aug</text>
<text x="375.8" y="542.8000000000001" font-size="7" fill="#4a4a4a" text-anchor="middle" font-weight="normal" >27-Aug</text>
<text x="439.3" y="542.8000000000001" font-size="7" fill="#4a4a4a" text-anchor="middle" font-weight="normal" >28-Aug</text>
<text x="502.8" y="542.8000000000001" font-size="7" fill="#4a4a4a" text-anchor="middle" font-weight="normal" >29-Aug</text>
<text x="566.4" y="542.8000000000001" font-size="7" fill="#4a4a4a" text-anchor="middle" font-weight="normal" >30-Aug</text>
<text x="311.8" y="559" font-size="7.4" fill="#444" text-anchor="middle" font-weight="normal" >Time</text>
<text transform="translate(29,503.3) rotate(-90)" font-size="7.4" fill="#444" text-anchor="middle">Count</text>
<path d="M107,533.2 L551,533.2" stroke="#e8836a" stroke-width="1.3" fill="none"/>
<path d="M333,533.2 L335,533.2 L337.2,476.3 L339.6,533.2 L341,533.2" stroke="#f3b13f" stroke-width="1.3" fill="rgba(243,177,63,0.1)"/>
<rect x="498.9" y="454.2" width="6.8" height="6.5" fill="#f0a32a"/>
<text x="509.29999999999995" y="459.8" font-size="6.7" fill="#555" text-anchor="start" font-weight="normal" >Warning</text>
<rect x="538.4" y="454.2" width="6.8" height="6.5" fill="#e3282c"/>
<text x="548.8" y="459.8" font-size="6.7" fill="#555" text-anchor="start" font-weight="normal" >Fatal</text>
<line x1="655.4" x2="1176.5" y1="127.5" y2="127.5" stroke="#f1f1f1" stroke-width="1"/>
<line x1="655.4" x2="1176.5" y1="170" y2="170" stroke="#e6e6e6" stroke-width="1"/>
<line x1="655.4" x2="655.4" y1="75" y2="173" stroke="#e6e6e6" stroke-width="1"/>
<text x="649.4" y="87.2" font-size="7" fill="#4a4a4a" text-anchor="end" font-weight="normal" >1</text>
<text x="649.4" y="129.9" font-size="7" fill="#4a4a4a" text-anchor="end" font-weight="normal" >0.5</text>
<text x="649.4" y="172.6" font-size="7" fill="#4a4a4a" text-anchor="end" font-weight="normal" >0</text>
<text x="665.2" y="180.2" font-size="7" fill="#4a4a4a" text-anchor="middle" font-weight="normal" >22-Aug</text>
<text x="728.0" y="180.2" font-size="7" fill="#4a4a4a" text-anchor="middle" font-weight="normal" >23-Aug</text>
<text x="790.8" y="180.2" font-size="7" fill="#4a4a4a" text-anchor="middle" font-weight="normal" >24-Aug</text>
<text x="853.6" y="180.2" font-size="7" fill="#4a4a4a" text-anchor="middle" font-weight="normal" >25-Aug</text>
<text x="916.4" y="180.2" font-size="7" fill="#4a4a4a" text-anchor="middle" font-weight="normal" >26-Aug</text>
<text x="979.2" y="180.2" font-size="7" fill="#4a4a4a" text-anchor="middle" font-weight="normal" >27-Aug</text>
<text x="1042.0" y="180.2" font-size="7" fill="#4a4a4a" text-anchor="middle" font-weight="normal" >28-Aug</text>
<text x="1104.8" y="180.2" font-size="7" fill="#4a4a4a" text-anchor="middle" font-weight="normal" >29-Aug</text>
<text x="1167.6" y="180.2" font-size="7" fill="#4a4a4a" text-anchor="middle" font-weight="normal" >30-Aug</text>
<text transform="translate(630.6,122.4) rotate(-90)" font-size="7.4" fill="#444" text-anchor="middle">Apdex</text>
<path d="M713.9,84.8 C770.6,84.8 827.3,84.8 884.0,84.8 C885.7,84.8 887.5,86.4 889.2,86.4 C890.6,86.4 892.1,84.8 893.5,84.8 C894.5,84.8 895.5,84.8 896.5,84.8 C897.6,84.8 898.6,85.7 899.7,85.7 C900.8,85.7 901.9,84.8 903.0,84.8 C925.2,84.8 947.3,84.8 969.5,84.8 C971.7,84.8 973.9,89.0 976.1,89.0 C978.2,89.0 980.4,84.8 982.5,84.8 C1039.3,84.8 1096.2,84.8 1153.0,84.8 L1153.0,170 L713.9,170 Z" fill="rgba(70,190,135,0.15)"/>
<text x="920" y="81.5" font-size="8.2" fill="#4d4d4d" text-anchor="middle" font-weight="normal" >95th Percentile : 1</text>
<line x1="655.4" x2="1176.5" y1="84.6" y2="84.6" stroke="#52935a" stroke-width="1.4"/>
<path d="M713.9,84.8 C770.6,84.8 827.3,84.8 884.0,84.8 C885.7,84.8 887.5,86.4 889.2,86.4 C890.6,86.4 892.1,84.8 893.5,84.8 C894.5,84.8 895.5,84.8 896.5,84.8 C897.6,84.8 898.6,85.7 899.7,85.7 C900.8,85.7 901.9,84.8 903.0,84.8 C925.2,84.8 947.3,84.8 969.5,84.8 C971.7,84.8 973.9,89.0 976.1,89.0 C978.2,89.0 980.4,84.8 982.5,84.8 C1039.3,84.8 1096.2,84.8 1153.0,84.8" fill="none" stroke="#4a9a6a" stroke-width="1.1"/>
<circle cx="659.6" cy="84.6" r="3.4" fill="#fff" stroke="#0f6f0f" stroke-width="1.3"/>
<line x1="657.1" x2="1176.5" y1="217.2" y2="217.2" stroke="#f1f1f1" stroke-width="1"/>
<line x1="657.1" x2="1176.5" y1="242.0" y2="242.0" stroke="#f1f1f1" stroke-width="1"/>
<line x1="657.1" x2="1176.5" y1="266.8" y2="266.8" stroke="#f1f1f1" stroke-width="1"/>
<line x1="657.1" x2="1176.5" y1="291.6" y2="291.6" stroke="#f1f1f1" stroke-width="1"/>
<line x1="657.1" x2="1176.5" y1="316.6" y2="316.6" stroke="#e6e6e6" stroke-width="1"/>
<line x1="657.1" x2="657.1" y1="213" y2="319.6" stroke="#e6e6e6" stroke-width="1"/>
<text x="651.0" y="219.6" font-size="7" fill="#4a4a4a" text-anchor="end" font-weight="normal" >800</text>
<text x="651.0" y="244.4" font-size="7" fill="#4a4a4a" text-anchor="end" font-weight="normal" >600</text>
<text x="651.0" y="269.2" font-size="7" fill="#4a4a4a" text-anchor="end" font-weight="normal" >400</text>
<text x="651.0" y="294.0" font-size="7" fill="#4a4a4a" text-anchor="end" font-weight="normal" >200</text>
<text x="651.0" y="319.0" font-size="7" fill="#4a4a4a" text-anchor="end" font-weight="normal" >0</text>
<text x="666.9" y="326.0" font-size="7" fill="#4a4a4a" text-anchor="middle" font-weight="normal" >22-Aug</text>
<text x="729.5" y="326.0" font-size="7" fill="#4a4a4a" text-anchor="middle" font-weight="normal" >23-Aug</text>
<text x="792.1" y="326.0" font-size="7" fill="#4a4a4a" text-anchor="middle" font-weight="normal" >24-Aug</text>
<text x="854.7" y="326.0" font-size="7" fill="#4a4a4a" text-anchor="middle" font-weight="normal" >25-Aug</text>
<text x="917.3" y="326.0" font-size="7" fill="#4a4a4a" text-anchor="middle" font-weight="normal" >26-Aug</text>
<text x="979.9" y="326.0" font-size="7" fill="#4a4a4a" text-anchor="middle" font-weight="normal" >27-Aug</text>
<text x="1042.5" y="326.0" font-size="7" fill="#4a4a4a" text-anchor="middle" font-weight="normal" >28-Aug</text>
<text x="1105.1" y="326.0" font-size="7" fill="#4a4a4a" text-anchor="middle" font-weight="normal" >29-Aug</text>
<text x="1167.7" y="326.0" font-size="7" fill="#4a4a4a" text-anchor="middle" font-weight="normal" >30-Aug</text>
<text transform="translate(630.5,263.7) rotate(-90)" font-size="7.4" fill="#444" text-anchor="middle">Count</text>
<text x="921" y="229.2" font-size="8.2" fill="#4d4d4d" text-anchor="middle" font-weight="normal" >95th Percentile : 675</text>
<path d="M716.4,316.2 C730.9,315.9 745.5,315.6 760.0,315.3 C773.3,315.0 786.7,314.7 800.0,314.3 C813.3,313.9 826.7,313.4 840.0,312.8 C852.2,312.2 864.4,312.6 876.6,310.3 C877.6,310.1 878.7,283.3 879.7,283.3 C880.4,283.3 881.1,290.7 881.8,294.1 C882.8,299.2 883.9,306.8 884.9,308.6 C886.6,311.6 888.3,313.8 890.0,313.8 C890.9,313.8 891.8,277.5 892.7,277.5 C893.4,277.5 894.1,298.7 894.8,300.3 C896.0,303.0 897.1,302.5 898.3,304.5 C899.2,306.1 900.1,312.4 901.0,312.4 C901.8,312.4 902.7,307.6 903.5,307.6 C905.2,307.6 907.0,308.1 908.7,308.6 C913.2,309.8 917.7,315.3 922.2,315.3 C927.7,315.3 933.3,315.3 938.8,315.3 C939.8,315.3 940.9,271.0 941.9,268.2 C942.8,265.8 943.7,266.5 944.6,264.1 C945.6,261.5 946.5,232.0 947.5,232.0 C948.4,232.0 949.3,307.6 950.2,307.6 C951.0,307.6 951.8,268.2 952.6,268.2 C953.4,268.2 954.1,270.9 954.9,270.9 C956.1,270.9 957.2,221.2 958.4,221.2 C959.1,221.2 959.8,235.5 960.5,246.5 C961.3,259.6 962.2,298.8 963.0,304.5 C963.9,310.7 964.8,315.3 965.7,315.3 C978.1,315.3 990.6,315.3 1003.0,315.2 C1004.0,315.2 1005.0,314.5 1006.0,314.5 C1007.0,314.5 1008.0,315.2 1009.0,315.2 C1048.9,315.2 1088.8,315.2 1128.7,314.6 C1129.9,314.6 1131.1,295.2 1132.3,295.2 C1133.2,295.2 1134.2,315.0 1135.1,315.0 C1136.0,315.0 1136.9,281.6 1137.8,281.6 C1138.7,281.6 1139.7,314.1 1140.6,314.1 C1142.3,314.1 1144.0,289.0 1145.7,289.0 C1146.7,289.0 1147.8,302.9 1148.8,305.8 C1150.3,310.1 1151.9,311.3 1153.4,314.1 L1153.4,316.6 L716.4,316.6 Z" fill="rgba(240,110,120,0.13)"/>
<path d="M716.4,316.2 C730.9,315.9 745.5,315.6 760.0,315.3 C773.3,315.0 786.7,314.7 800.0,314.3 C813.3,313.9 826.7,313.4 840.0,312.8 C852.2,312.2 864.4,312.6 876.6,310.3 C877.6,310.1 878.7,283.3 879.7,283.3 C880.4,283.3 881.1,290.7 881.8,294.1 C882.8,299.2 883.9,306.8 884.9,308.6 C886.6,311.6 888.3,313.8 890.0,313.8 C890.9,313.8 891.8,277.5 892.7,277.5 C893.4,277.5 894.1,298.7 894.8,300.3 C896.0,303.0 897.1,302.5 898.3,304.5 C899.2,306.1 900.1,312.4 901.0,312.4 C901.8,312.4 902.7,307.6 903.5,307.6 C905.2,307.6 907.0,308.1 908.7,308.6 C913.2,309.8 917.7,315.3 922.2,315.3 C927.7,315.3 933.3,315.3 938.8,315.3 C939.8,315.3 940.9,271.0 941.9,268.2 C942.8,265.8 943.7,266.5 944.6,264.1 C945.6,261.5 946.5,232.0 947.5,232.0 C948.4,232.0 949.3,307.6 950.2,307.6 C951.0,307.6 951.8,268.2 952.6,268.2 C953.4,268.2 954.1,270.9 954.9,270.9 C956.1,270.9 957.2,221.2 958.4,221.2 C959.1,221.2 959.8,235.5 960.5,246.5 C961.3,259.6 962.2,298.8 963.0,304.5 C963.9,310.7 964.8,315.3 965.7,315.3 C978.1,315.3 990.6,315.3 1003.0,315.2 C1004.0,315.2 1005.0,314.5 1006.0,314.5 C1007.0,314.5 1008.0,315.2 1009.0,315.2 C1048.9,315.2 1088.8,315.2 1128.7,314.6 C1129.9,314.6 1131.1,295.2 1132.3,295.2 C1133.2,295.2 1134.2,315.0 1135.1,315.0 C1136.0,315.0 1136.9,281.6 1137.8,281.6 C1138.7,281.6 1139.7,314.1 1140.6,314.1 C1142.3,314.1 1144.0,289.0 1145.7,289.0 C1146.7,289.0 1147.8,302.9 1148.8,305.8 C1150.3,310.1 1151.9,311.3 1153.4,314.1" fill="none" stroke="#e8646c" stroke-width="1.2"/>
<line x1="657.1" x2="1176.5" y1="232.5" y2="232.5" stroke="#52935a" stroke-width="1.4"/>
<circle cx="661.5" cy="232.5" r="3.4" fill="#fff" stroke="#0f6f0f" stroke-width="1.3"/>
<line x1="653.5" x2="1176.5" y1="366.9" y2="366.9" stroke="#f1f1f1" stroke-width="1"/>
<line x1="653.5" x2="1176.5" y1="390.0" y2="390.0" stroke="#f1f1f1" stroke-width="1"/>
<line x1="653.5" x2="1176.5" y1="413.0" y2="413.0" stroke="#f1f1f1" stroke-width="1"/>
<line x1="653.5" x2="1176.5" y1="436.0" y2="436.0" stroke="#f1f1f1" stroke-width="1"/>
<line x1="653.5" x2="1176.5" y1="458.8" y2="458.8" stroke="#e6e6e6" stroke-width="1"/>
<line x1="653.5" x2="653.5" y1="355.5" y2="461.8" stroke="#e6e6e6" stroke-width="1"/>
<text x="647.2" y="369.3" font-size="7" fill="#4a4a4a" text-anchor="end" font-weight="normal" >20</text>
<text x="647.2" y="392.4" font-size="7" fill="#4a4a4a" text-anchor="end" font-weight="normal" >15</text>
<text x="647.2" y="415.4" font-size="7" fill="#4a4a4a" text-anchor="end" font-weight="normal" >10</text>
<text x="647.2" y="438.4" font-size="7" fill="#4a4a4a" text-anchor="end" font-weight="normal" >5</text>
<text x="647.2" y="461.3" font-size="7" fill="#4a4a4a" text-anchor="end" font-weight="normal" >0</text>
<text x="663.5" y="468.9" font-size="7" fill="#4a4a4a" text-anchor="middle" font-weight="normal" >22-Aug</text>
<text x="726.5" y="468.9" font-size="7" fill="#4a4a4a" text-anchor="middle" font-weight="normal" >23-Aug</text>
<text x="789.5" y="468.9" font-size="7" fill="#4a4a4a" text-anchor="middle" font-weight="normal" >24-Aug</text>
<text x="852.5" y="468.9" font-size="7" fill="#4a4a4a" text-anchor="middle" font-weight="normal" >25-Aug</text>
<text x="915.5" y="468.9" font-size="7" fill="#4a4a4a" text-anchor="middle" font-weight="normal" >26-Aug</text>
<text x="978.5" y="468.9" font-size="7" fill="#4a4a4a" text-anchor="middle" font-weight="normal" >27-Aug</text>
<text x="1041.5" y="468.9" font-size="7" fill="#4a4a4a" text-anchor="middle" font-weight="normal" >28-Aug</text>
<text x="1104.5" y="468.9" font-size="7" fill="#4a4a4a" text-anchor="middle" font-weight="normal" >29-Aug</text>
<text x="1167.5" y="468.9" font-size="7" fill="#4a4a4a" text-anchor="middle" font-weight="normal" >30-Aug</text>
<text transform="translate(630.5,406.5) rotate(-90)" font-size="7.4" fill="#444" text-anchor="middle">Rate(%)</text>
<text x="919.6" y="386.6" font-size="8.2" fill="#4d4d4d" text-anchor="middle" font-weight="normal" >95th Percentile : 15.04 %</text>
<path d="M712.8,458.3 C766.4,458.3 819.9,458.3 873.5,458.3 C874.6,458.3 875.8,389.8 876.9,389.8 C877.6,389.8 878.2,391.0 878.9,392.8 C879.4,394.1 879.8,407.1 880.3,407.7 C881.3,409.0 882.4,408.5 883.4,409.6 C884.1,410.3 884.7,414.0 885.4,416.6 C886.2,419.8 887.0,427.5 887.8,427.5 C888.3,427.5 888.9,427.5 889.4,427.5 C889.9,427.5 890.3,385.8 890.8,385.8 C891.5,385.8 892.1,411.2 892.8,418.6 C893.1,422.3 893.5,427.5 893.8,427.5 C894.6,427.5 895.4,419.6 896.2,419.6 C897.0,419.6 897.9,428.9 898.7,428.9 C899.6,428.9 900.4,414.2 901.3,414.2 C901.9,414.2 902.5,417.3 903.1,420.6 C904.0,425.4 904.8,458.3 905.7,458.3 C910.7,458.3 915.6,458.3 920.6,458.3 C921.9,458.3 923.3,401.1 924.6,401.1 C925.6,401.1 926.6,458.3 927.6,458.3 C929.4,458.3 931.3,458.3 933.1,458.3 C934.2,458.3 935.4,447.8 936.5,438.4 C937.6,429.0 938.8,390.6 939.9,389.8 C940.8,389.2 941.6,389.4 942.5,388.8 C943.6,388.0 944.7,363.9 945.8,363.9 C946.7,363.9 947.5,411.6 948.4,411.6 C949.4,411.6 950.4,393.7 951.4,393.7 C952.1,393.7 952.7,396.7 953.4,396.7 C954.5,396.7 955.7,373.3 956.8,373.3 C957.5,373.3 958.2,378.0 958.9,380.8 C959.7,384.0 960.5,391.3 961.3,391.8 C962.3,392.4 963.3,392.7 964.3,392.8 C965.4,392.9 966.4,392.8 967.5,392.9 C968.2,392.9 968.8,458.3 969.5,458.3 C979.2,458.3 989.0,458.3 998.7,458.3 C1000.2,458.3 1001.8,425.5 1003.3,425.5 C1004.2,425.5 1005.2,426.5 1006.1,426.5 C1007.3,426.5 1008.4,421.8 1009.6,419.5 C1010.8,417.2 1012.0,412.6 1013.2,412.6 C1013.7,412.6 1014.1,413.5 1014.6,414.6 C1015.5,416.7 1016.3,458.3 1017.2,458.3 C1018.8,458.3 1020.4,458.3 1022.0,458.3 C1022.8,458.3 1023.7,419.5 1024.5,419.5 C1025.2,419.5 1025.8,426.0 1026.5,430.5 C1027.5,437.3 1028.5,458.3 1029.5,458.3 C1061.9,458.3 1094.4,458.3 1126.8,458.3 C1128.1,458.3 1129.5,423.6 1130.8,422.5 C1131.5,421.9 1132.1,421.5 1132.8,421.5 C1133.4,421.5 1134.1,440.4 1134.7,440.4 C1135.7,440.4 1136.7,393.7 1137.7,393.7 C1138.7,393.7 1139.7,428.9 1140.7,428.9 C1142.4,428.9 1144.0,389.8 1145.7,389.8 C1147.0,389.8 1148.3,415.9 1149.6,420.5 C1150.6,424.0 1151.6,425.2 1152.6,427.5 L1152.6,458.8 L712.8,458.8 Z" fill="rgba(250,200,110,0.18)"/>
<path d="M712.8,458.3 C766.4,458.3 819.9,458.3 873.5,458.3 C874.6,458.3 875.8,389.8 876.9,389.8 C877.6,389.8 878.2,391.0 878.9,392.8 C879.4,394.1 879.8,407.1 880.3,407.7 C881.3,409.0 882.4,408.5 883.4,409.6 C884.1,410.3 884.7,414.0 885.4,416.6 C886.2,419.8 887.0,427.5 887.8,427.5 C888.3,427.5 888.9,427.5 889.4,427.5 C889.9,427.5 890.3,385.8 890.8,385.8 C891.5,385.8 892.1,411.2 892.8,418.6 C893.1,422.3 893.5,427.5 893.8,427.5 C894.6,427.5 895.4,419.6 896.2,419.6 C897.0,419.6 897.9,428.9 898.7,428.9 C899.6,428.9 900.4,414.2 901.3,414.2 C901.9,414.2 902.5,417.3 903.1,420.6 C904.0,425.4 904.8,458.3 905.7,458.3 C910.7,458.3 915.6,458.3 920.6,458.3 C921.9,458.3 923.3,401.1 924.6,401.1 C925.6,401.1 926.6,458.3 927.6,458.3 C929.4,458.3 931.3,458.3 933.1,458.3 C934.2,458.3 935.4,447.8 936.5,438.4 C937.6,429.0 938.8,390.6 939.9,389.8 C940.8,389.2 941.6,389.4 942.5,388.8 C943.6,388.0 944.7,363.9 945.8,363.9 C946.7,363.9 947.5,411.6 948.4,411.6 C949.4,411.6 950.4,393.7 951.4,393.7 C952.1,393.7 952.7,396.7 953.4,396.7 C954.5,396.7 955.7,373.3 956.8,373.3 C957.5,373.3 958.2,378.0 958.9,380.8 C959.7,384.0 960.5,391.3 961.3,391.8 C962.3,392.4 963.3,392.7 964.3,392.8 C965.4,392.9 966.4,392.8 967.5,392.9 C968.2,392.9 968.8,458.3 969.5,458.3 C979.2,458.3 989.0,458.3 998.7,458.3 C1000.2,458.3 1001.8,425.5 1003.3,425.5 C1004.2,425.5 1005.2,426.5 1006.1,426.5 C1007.3,426.5 1008.4,421.8 1009.6,419.5 C1010.8,417.2 1012.0,412.6 1013.2,412.6 C1013.7,412.6 1014.1,413.5 1014.6,414.6 C1015.5,416.7 1016.3,458.3 1017.2,458.3 C1018.8,458.3 1020.4,458.3 1022.0,458.3 C1022.8,458.3 1023.7,419.5 1024.5,419.5 C1025.2,419.5 1025.8,426.0 1026.5,430.5 C1027.5,437.3 1028.5,458.3 1029.5,458.3 C1061.9,458.3 1094.4,458.3 1126.8,458.3 C1128.1,458.3 1129.5,423.6 1130.8,422.5 C1131.5,421.9 1132.1,421.5 1132.8,421.5 C1133.4,421.5 1134.1,440.4 1134.7,440.4 C1135.7,440.4 1136.7,393.7 1137.7,393.7 C1138.7,393.7 1139.7,428.9 1140.7,428.9 C1142.4,428.9 1144.0,389.8 1145.7,389.8 C1147.0,389.8 1148.3,415.9 1149.6,420.5 C1150.6,424.0 1151.6,425.2 1152.6,427.5" fill="none" stroke="#f4c163" stroke-width="1.15"/>
<line x1="653.5" x2="1176.5" y1="389.3" y2="389.3" stroke="#52935a" stroke-width="1.4"/>
<circle cx="657.9" cy="389.3" r="3.4" fill="#fff" stroke="#0f6f0f" stroke-width="1.3"/>
<line x1="653.1" x2="1176.5" y1="534.5" y2="534.5" stroke="#f1f1f1" stroke-width="1"/>
<line x1="653.1" x2="1176.5" y1="562.6" y2="562.6" stroke="#f1f1f1" stroke-width="1"/>
<line x1="653.1" x2="653.1" y1="512.7" y2="580" stroke="#e6e6e6" stroke-width="1"/>
<text x="647.6" y="537.2" font-size="7" fill="#4a4a4a" text-anchor="end" font-weight="normal" >60</text>
<text x="647.6" y="565.0" font-size="7" fill="#4a4a4a" text-anchor="end" font-weight="normal" >40</text>
<text transform="translate(630.6,564.3) rotate(-90)" font-size="7.4" fill="#444" text-anchor="middle">Throughput (rpm)</text>
<text x="919.4" y="556" font-size="8.2" fill="#4d4d4d" text-anchor="middle" font-weight="normal" >95th Percentile : 42.07 rpm</text>
<path d="M860.0,581.0 C863.3,580.9 866.7,580.8 870.0,580.6 C871.8,580.5 873.7,580.0 875.5,579.2 C876.3,578.8 877.1,576.8 877.9,576.8 C878.8,576.8 879.6,579.4 880.5,579.4 C882.8,579.4 885.2,579.4 887.5,579.4 C888.7,579.4 889.8,572.2 891.0,572.2 C892.2,572.2 893.3,578.7 894.5,579.4 C895.7,580.1 896.8,580.6 898.0,580.6 C912.0,580.6 925.9,580.6 939.9,580.0 C940.3,580.0 940.6,558.9 941.0,556.5 C942.5,546.5 944.1,541.9 945.6,541.9 C946.3,541.9 946.9,550.1 947.6,557.7 C948.0,562.3 948.4,580.0 948.8,580.0 C949.4,580.0 950.0,556.1 950.6,555.3 C951.2,554.5 951.8,554.8 952.4,554.1 C953.0,553.4 953.6,549.7 954.2,545.8 C954.9,541.3 955.6,521.9 956.3,521.9 C957.0,521.9 957.6,537.2 958.3,545.8 C959.1,556.2 959.9,580.0 960.7,580.0 C1015.5,581.0 1070.2,581.0 1125.0,581.0 C1126.7,581.0 1128.3,580.7 1130.0,580.0 C1130.8,579.7 1131.6,570.0 1132.4,570.0 C1133.1,570.0 1133.8,580.0 1134.5,580.0 C1134.9,580.0 1135.2,580.0 1135.6,580.0 C1136.3,580.0 1137.0,570.0 1137.7,570.0 C1138.4,570.0 1139.1,576.7 1139.8,580.0 L1139.8,581 L860.0,581 Z" fill="rgba(80,150,230,0.12)"/>
<path d="M860.0,581.0 C863.3,580.9 866.7,580.8 870.0,580.6 C871.8,580.5 873.7,580.0 875.5,579.2 C876.3,578.8 877.1,576.8 877.9,576.8 C878.8,576.8 879.6,579.4 880.5,579.4 C882.8,579.4 885.2,579.4 887.5,579.4 C888.7,579.4 889.8,572.2 891.0,572.2 C892.2,572.2 893.3,578.7 894.5,579.4 C895.7,580.1 896.8,580.6 898.0,580.6 C912.0,580.6 925.9,580.6 939.9,580.0 C940.3,580.0 940.6,558.9 941.0,556.5 C942.5,546.5 944.1,541.9 945.6,541.9 C946.3,541.9 946.9,550.1 947.6,557.7 C948.0,562.3 948.4,580.0 948.8,580.0 C949.4,580.0 950.0,556.1 950.6,555.3 C951.2,554.5 951.8,554.8 952.4,554.1 C953.0,553.4 953.6,549.7 954.2,545.8 C954.9,541.3 955.6,521.9 956.3,521.9 C957.0,521.9 957.6,537.2 958.3,545.8 C959.1,556.2 959.9,580.0 960.7,580.0 C1015.5,581.0 1070.2,581.0 1125.0,581.0 C1126.7,581.0 1128.3,580.7 1130.0,580.0 C1130.8,579.7 1131.6,570.0 1132.4,570.0 C1133.1,570.0 1133.8,580.0 1134.5,580.0 C1134.9,580.0 1135.2,580.0 1135.6,580.0 C1136.3,580.0 1137.0,570.0 1137.7,570.0 C1138.4,570.0 1139.1,576.7 1139.8,580.0" fill="none" stroke="#5a9ce6" stroke-width="1.2"/>
<line x1="653.1" x2="1176.5" y1="559" y2="559" stroke="#52935a" stroke-width="1.4"/>
<circle cx="657.6" cy="559" r="3.4" fill="#fff" stroke="#0f6f0f" stroke-width="1.3"/>
</svg>
<div style="position:absolute;left:1175.7px;top:563.1px;width:40px;height:30px;background:#2196f3;border-radius:5.5px;"></div>
<div style="position:absolute;left:1191.2px;top:568.9px;width:12px;height:12px;background:#0b1622;"></div>
<svg width="1200" height="579" style="position:absolute;left:0;top:0"><path d="M1195.6,579.5 C1196.4,578 1196.6,573.5 1197.8,572.6 C1198.6,572 1199.4,572.2 1200.5,572.3" fill="none" stroke="#4aa3d8" stroke-width="1.1"/></svg>
</body></html>
